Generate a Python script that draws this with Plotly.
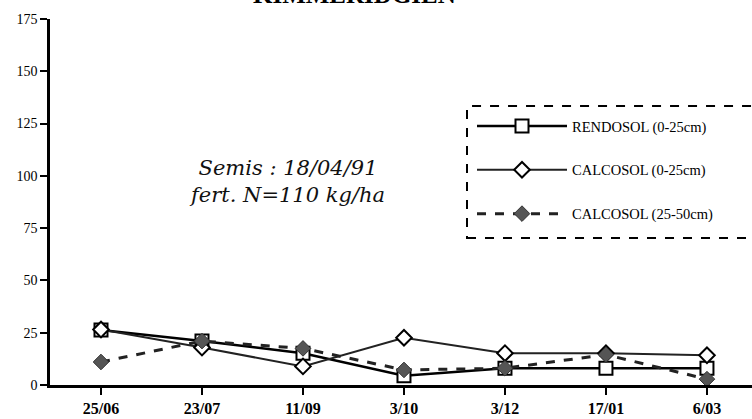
import plotly.graph_objects as go

dates = ["25/06", "23/07", "11/09", "3/10", "3/12", "17/01", "6/03"]
rendosol = [26.3, 21, 15.2, 4.4, 8, 8, 8]
calcosol_0_25 = [26.5, 17.9, 8.9, 22.6, 15.2, 15.2, 14.2]
calcosol_25_50 = [11, 21, 17.5, 7.2, 8, 14.5, 2.8]
y_ticks = [0, 25, 50, 75, 100, 125, 150, 175]

xs = list(range(len(dates)))
serif = "Liberation Serif, Times New Roman, serif"

fig = go.Figure()
fig.add_trace(go.Scatter(
    x=xs, y=rendosol, name="RENDOSOL (0-25cm)", mode="lines+markers",
    line=dict(color="black", width=2.5),
    marker=dict(symbol="square", size=13, color="white", line=dict(color="black", width=2)),
    legendgroup="a"))
fig.add_trace(go.Scatter(
    x=xs, y=calcosol_0_25, name="CALCOSOL (0-25cm)", mode="lines+markers",
    line=dict(color="#222", width=2),
    marker=dict(symbol="diamond", size=12, color="white", line=dict(color="black", width=2)),
    legendgroup="b"))
fig.add_trace(go.Scatter(
    x=xs, y=calcosol_25_50, name="CALCOSOL (25-50cm)", mode="lines+markers",
    line=dict(color="#222", width=3, dash="dash"),
    marker=dict(symbol="diamond", size=12, color="#555", line=dict(color="#333", width=1)),
    legendgroup="c"))

fig.update_layout(
    width=752, height=419,
    margin=dict(l=50, r=0, t=19, b=34),
    paper_bgcolor="white", plot_bgcolor="white",
    showlegend=True,
    legend=dict(x=(472 - 50) / 702, y=(385 - 110) / 366, xanchor="left", yanchor="top",
                font=dict(family=serif, size=14.5, color="black"),
                bgcolor="rgba(0,0,0,0)", tracegroupgap=22, itemwidth=90),
    xaxis=dict(range=[-0.505, 6.446], tickmode="array", tickvals=xs, ticktext=dates,
               showgrid=False, zeroline=False, showline=True, linecolor="black", linewidth=3,
               ticks="outside", ticklen=7, tickwidth=1.5, tickcolor="black",
               tickfont=dict(family=serif, size=16, color="black", weight="bold")),
    yaxis=dict(range=[0, 175], tickmode="array", tickvals=y_ticks,
               showgrid=False, zeroline=False, showline=True, linecolor="black", linewidth=2.5,
               ticks="outside", ticklen=7, tickwidth=2, tickcolor="black",
               tickfont=dict(family=serif, size=14, color="black")),
)

fig.add_shape(type="rect", xref="paper", yref="paper",
              x0=(467 - 50) / 702, x1=1.01, y0=(385 - 238) / 366, y1=(385 - 106) / 366,
              line=dict(color="black", width=2, dash="dash"))

fig.add_annotation(text="KIMMERIDGIEN", xref="paper", yref="paper",
                   x=(354 - 50) / 702, y=1 + (19 - 10) / 366, yanchor="bottom", showarrow=False,
                   font=dict(family=serif, size=25, color="black", weight="bold"))
fig.add_annotation(text="<i>Semis : 18/04/91</i><br><i>fert. N=110 kg/ha</i>",
                   xref="paper", yref="paper", x=(287 - 50) / 702, y=(385 - 181) / 366,
                   yanchor="middle", showarrow=False, align="center",
                   font=dict(family="DejaVu Serif, serif", size=21, color="#111"))

fig.write_html("out.html", config={"displayModeBar": False},
               post_script="document.body.style.margin='0';")
